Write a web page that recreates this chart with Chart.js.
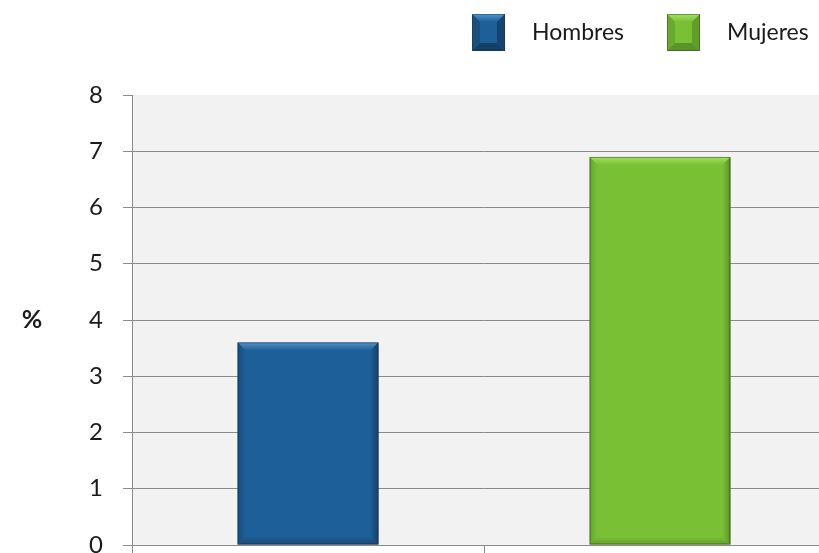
<!DOCTYPE html>
<html>
<head>
<meta charset="utf-8">
<script src="https://cdn.jsdelivr.net/npm/chart.js@4.4.1/dist/chart.umd.min.js"></script>
<style>
html,body{margin:0;padding:0;background:#fff;overflow:hidden;width:819px;height:553px;}
canvas{display:block;}
</style>
</head>
<body>
<canvas id="c" width="840" height="553"></canvas>
<script>
const categories = ['Hombres', 'Mujeres'];
const values = [3.6, 6.9];
const barColors = ['#1d5f98', '#79c035'];
const bevelLight = ['#4f93cf', '#a6e062'];
const bevelDark = ['#143f66', '#5a9327'];
const yTicks = [0, 1, 2, 3, 4, 5, 6, 7, 8];
const yTitle = '%';

const gridGray = '#8a8a8a';
const FONT = 'Lato, "Open Sans", sans-serif';

const bgPlugin = {
  id: 'bg',
  beforeDraw(chart) {
    const a = chart.chartArea, ctx = chart.ctx;
    ctx.save();
    ctx.fillStyle = '#f2f2f2';
    ctx.fillRect(a.left, a.top, a.right - a.left, a.bottom - a.top);
    ctx.restore();
  }
};

const bevelPlugin = {
  id: 'bevel',
  afterDatasetsDraw(chart) {
    const ctx = chart.ctx;
    const meta = chart.getDatasetMeta(0);
    meta.data.forEach((el, i) => {
      const p = el.getProps(['x', 'y', 'base', 'width'], true);
      const l = p.x - p.width / 2, r = p.x + p.width / 2, t = p.y, b = p.base;
      const s = 8;
      ctx.save();
      const gt = ctx.createLinearGradient(0, t, 0, t + s);
      gt.addColorStop(0, bevelLight[i]);
      gt.addColorStop(1, barColors[i]);
      ctx.fillStyle = gt;
      ctx.beginPath();
      ctx.moveTo(l, t); ctx.lineTo(r, t); ctx.lineTo(r - s, t + s); ctx.lineTo(l + s, t + s); ctx.closePath();
      ctx.fill();
      const gr = ctx.createLinearGradient(r - s, 0, r, 0);
      gr.addColorStop(0, barColors[i]);
      gr.addColorStop(1, bevelDark[i]);
      ctx.fillStyle = gr;
      ctx.beginPath();
      ctx.moveTo(r, t); ctx.lineTo(r, b); ctx.lineTo(r - s, b - s); ctx.lineTo(r - s, t + s); ctx.closePath();
      ctx.fill();
      const gl = ctx.createLinearGradient(l, 0, l + s, 0);
      gl.addColorStop(0, bevelDark[i]);
      gl.addColorStop(1, barColors[i]);
      ctx.globalAlpha = 0.6;
      ctx.fillStyle = gl;
      ctx.beginPath();
      ctx.moveTo(l, t); ctx.lineTo(l + s, t + s); ctx.lineTo(l + s, b - s); ctx.lineTo(l, b); ctx.closePath();
      ctx.fill();
      const gb = ctx.createLinearGradient(0, b - s, 0, b);
      gb.addColorStop(0, barColors[i]);
      gb.addColorStop(1, bevelDark[i]);
      ctx.globalAlpha = 0.7;
      ctx.fillStyle = gb;
      ctx.beginPath();
      ctx.moveTo(l, b); ctx.lineTo(r, b); ctx.lineTo(r - s, b - s); ctx.lineTo(l + s, b - s); ctx.closePath();
      ctx.fill();
      ctx.globalAlpha = 1;
      ctx.strokeStyle = 'rgba(40,40,40,0.45)';
      ctx.lineWidth = 1;
      ctx.strokeRect(l + 0.5, t + 0.5, r - l - 1, b - t - 1);
      ctx.restore();
    });
  }
};

const legendPlugin = {
  id: 'customLegend',
  afterDraw(chart) {
    const ctx = chart.ctx;
    const starts = [472, 667];
    ctx.save();
    ctx.font = '23px ' + FONT;
    ctx.textBaseline = 'middle';
    categories.forEach((lab, i) => {
      const x = starts[i], y = 14, w = 33, h = 37;
      ctx.fillStyle = barColors[i];
      ctx.fillRect(x, y, w, h);
      const s = 8;
      const g = ctx.createLinearGradient(0, y, 0, y + s);
      g.addColorStop(0, bevelLight[i]); g.addColorStop(1, barColors[i]);
      ctx.fillStyle = g;
      ctx.beginPath(); ctx.moveTo(x, y); ctx.lineTo(x + w, y); ctx.lineTo(x + w - s, y + s); ctx.lineTo(x + s, y + s); ctx.closePath(); ctx.fill();
      ctx.fillStyle = bevelDark[i];
      ctx.beginPath(); ctx.moveTo(x, y + h); ctx.lineTo(x + w, y + h); ctx.lineTo(x + w - s, y + h - s); ctx.lineTo(x + s, y + h - s); ctx.closePath(); ctx.fill();
      ctx.globalAlpha = 0.8;
      ctx.beginPath(); ctx.moveTo(x + w, y); ctx.lineTo(x + w, y + h); ctx.lineTo(x + w - s, y + h - s); ctx.lineTo(x + w - s, y + s); ctx.closePath(); ctx.fill();
      ctx.globalAlpha = 0.5;
      ctx.beginPath(); ctx.moveTo(x, y); ctx.lineTo(x, y + h); ctx.lineTo(x + s, y + h - s); ctx.lineTo(x + s, y + s); ctx.closePath(); ctx.fill();
      ctx.globalAlpha = 1;
      ctx.strokeStyle = 'rgba(40,40,40,0.4)';
      ctx.lineWidth = 1;
      ctx.strokeRect(x + 0.5, y + 0.5, w - 1, h - 1);
      ctx.fillStyle = '#1a1a1a';
      ctx.fillText(lab, x + w + 27, y + h / 2);
    });
    const yS = chart.scales.y;
    ctx.font = 'bold 25px ' + FONT;
    ctx.textAlign = 'center';
    ctx.fillStyle = '#1a1a1a';
    ctx.fillText(yTitle, 32, yS.getPixelForValue(4));
    ctx.restore();
  }
};

new Chart(document.getElementById('c'), {
  type: 'bar',
  data: {
    labels: categories,
    datasets: [{
      label: 'Serie',
      data: values,
      backgroundColor: barColors,
      borderWidth: 0,
      barPercentage: 0.4,
      categoryPercentage: 1.0
    }]
  },
  options: {
    responsive: false,
    animation: false,
    layout: { padding: { top: 95, right: 4, bottom: 0, left: 0 } },
    plugins: { legend: { display: false }, tooltip: { enabled: false } },
    scales: {
      x: {
        offset: true,
        grid: { offset: true, drawOnChartArea: false, tickLength: 8, color: gridGray, tickColor: gridGray, lineWidth: 1 },
        border: { color: gridGray, width: 1 },
        ticks: { display: false },
        afterFit(s) { s.height = 8; }
      },
      y: {
        min: 0, max: 8,
        afterBuildTicks(s) { s.ticks = yTicks.map(v => ({ value: v })); },
        grid: {
          color: ctx => (ctx.tick && ctx.tick.value === 8) ? 'rgba(0,0,0,0)' : gridGray,
          tickColor: gridGray, tickLength: 9, lineWidth: 1
        },
        border: { color: gridGray, width: 1 },
        ticks: { padding: 20, color: '#1a1a1a', font: { family: FONT, size: 24 } },
        afterFit(s) { s.width = 132; s.paddingTop = 0; s.paddingBottom = 0; }
      }
    }
  },
  plugins: [bgPlugin, bevelPlugin, legendPlugin]
});
</script>
</body>
</html>
